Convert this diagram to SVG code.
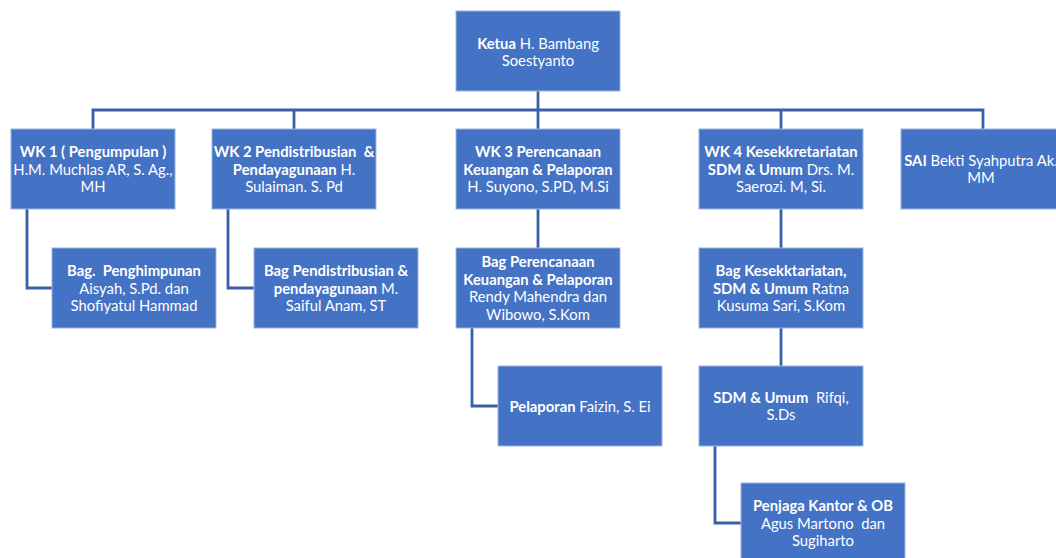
<svg xmlns="http://www.w3.org/2000/svg" width="1056" height="558" viewBox="0 0 1056 558">
<style>
.box{fill:#4472C4;stroke:#9DB4E0;stroke-width:1}
.t{font-family:Lato,"Liberation Sans",sans-serif;font-size:14.8px;fill:#FFFFFF;text-anchor:middle;white-space:pre}
.b{font-weight:bold}
.c{fill:none;stroke:#3A5FA8;stroke-width:2.8}
</style>
<rect width="1056" height="558" fill="#FFFFFF"/>
<g id="connectors">
<path class="c" d="M538,91 V129"/>
<path class="c" d="M93,129 V110 H983 V129"/>
<path class="c" d="M294,110 V129"/>
<path class="c" d="M781,110 V129"/>
<path class="c" d="M27,209 V288 H52"/>
<path class="c" d="M228,209 V288 H254"/>
<path class="c" d="M538,209 V248"/>
<path class="c" d="M472,328 V406 H498"/>
<path class="c" d="M781,209 V248"/>
<path class="c" d="M781,328 V366"/>
<path class="c" d="M715,446 V523 H741"/>
</g>
<g id="ketua">
<rect class="box" x="456" y="11" width="164" height="80"/>
<text class="t" x="538" y="48.5"><tspan class="b">Ketua</tspan> H. Bambang</text>
<text class="t" x="538" y="66">Soestyanto</text>
</g>
<g id="wk1">
<rect class="box" x="11" y="129" width="164" height="80"/>
<text class="t" x="93" y="157"><tspan class="b">WK 1 ( Pengumpulan )</tspan></text>
<text class="t" x="93" y="174.5">H.M. Muchlas AR, S. Ag.,</text>
<text class="t" x="93" y="192">MH</text>
</g>
<g id="wk2">
<rect class="box" x="212" y="129" width="164" height="80"/>
<text class="t" x="294" y="157"><tspan class="b">WK 2 Pendistribusian  &amp;</tspan></text>
<text class="t" x="294" y="174.5"><tspan class="b">Pendayagunaan</tspan> H.</text>
<text class="t" x="294" y="192">Sulaiman. S. Pd</text>
</g>
<g id="wk3">
<rect class="box" x="456" y="129" width="164" height="80"/>
<text class="t" x="538" y="157"><tspan class="b">WK 3 Perencanaan</tspan></text>
<text class="t" x="538" y="174.5"><tspan class="b">Keuangan &amp; Pelaporan</tspan></text>
<text class="t" x="538" y="192">H. Suyono, S.PD, M.Si</text>
</g>
<g id="wk4">
<rect class="box" x="699" y="129" width="164" height="80"/>
<text class="t" x="781" y="157"><tspan class="b">WK 4 Kesekkretariatan</tspan></text>
<text class="t" x="781" y="174.5"><tspan class="b">SDM &amp; Umum</tspan> Drs. M.</text>
<text class="t" x="781" y="192">Saerozi. M, Si.</text>
</g>
<g id="sai">
<rect class="box" x="901" y="129" width="164" height="80"/>
<text class="t" x="981" y="165.5"><tspan class="b">SAI</tspan> Bekti Syahputra Ak.</text>
<text class="t" x="981" y="183">MM</text>
</g>
<g id="bag-penghimpunan">
<rect class="box" x="52" y="248" width="164" height="80"/>
<text class="t" x="134" y="276"><tspan class="b">Bag.  Penghimpunan</tspan></text>
<text class="t" x="134" y="293.5">Aisyah, S.Pd. dan</text>
<text class="t" x="134" y="311">Shofiyatul Hammad</text>
</g>
<g id="bag-pendistribusian">
<rect class="box" x="254" y="248" width="164" height="80"/>
<text class="t" x="336" y="276"><tspan class="b">Bag Pendistribusian &amp;</tspan></text>
<text class="t" x="336" y="293.5"><tspan class="b">pendayagunaan</tspan> M.</text>
<text class="t" x="336" y="311">Saiful Anam, ST</text>
</g>
<g id="bag-perencanaan">
<rect class="box" x="456" y="248" width="164" height="80"/>
<text class="t" x="538" y="267.25"><tspan class="b">Bag Perencanaan</tspan></text>
<text class="t" x="538" y="284.75"><tspan class="b">Keuangan &amp; Pelaporan</tspan></text>
<text class="t" x="538" y="302.25">Rendy Mahendra dan</text>
<text class="t" x="538" y="319.75">Wibowo, S.Kom</text>
</g>
<g id="pelaporan">
<rect class="box" x="498" y="366" width="164" height="80"/>
<text class="t" x="580" y="411.5"><tspan class="b">Pelaporan</tspan> Faizin, S. Ei</text>
</g>
<g id="bag-kesekktariatan">
<rect class="box" x="699" y="248" width="164" height="80"/>
<text class="t" x="781" y="276"><tspan class="b">Bag Kesekktariatan,</tspan></text>
<text class="t" x="781" y="293.5"><tspan class="b">SDM &amp; Umum</tspan> Ratna</text>
<text class="t" x="781" y="311">Kusuma Sari, S.Kom</text>
</g>
<g id="sdm-umum">
<rect class="box" x="699" y="366" width="164" height="80"/>
<text class="t" x="781" y="402.75"><tspan class="b">SDM &amp; Umum</tspan>  Rifqi,</text>
<text class="t" x="781" y="420.25">S.Ds</text>
</g>
<g id="penjaga">
<rect class="box" x="741" y="483" width="164" height="80"/>
<text class="t" x="823" y="511"><tspan class="b">Penjaga Kantor &amp; OB</tspan></text>
<text class="t" x="823" y="528.5">Agus Martono  dan</text>
<text class="t" x="823" y="546">Sugiharto</text>
</g>
</svg>
